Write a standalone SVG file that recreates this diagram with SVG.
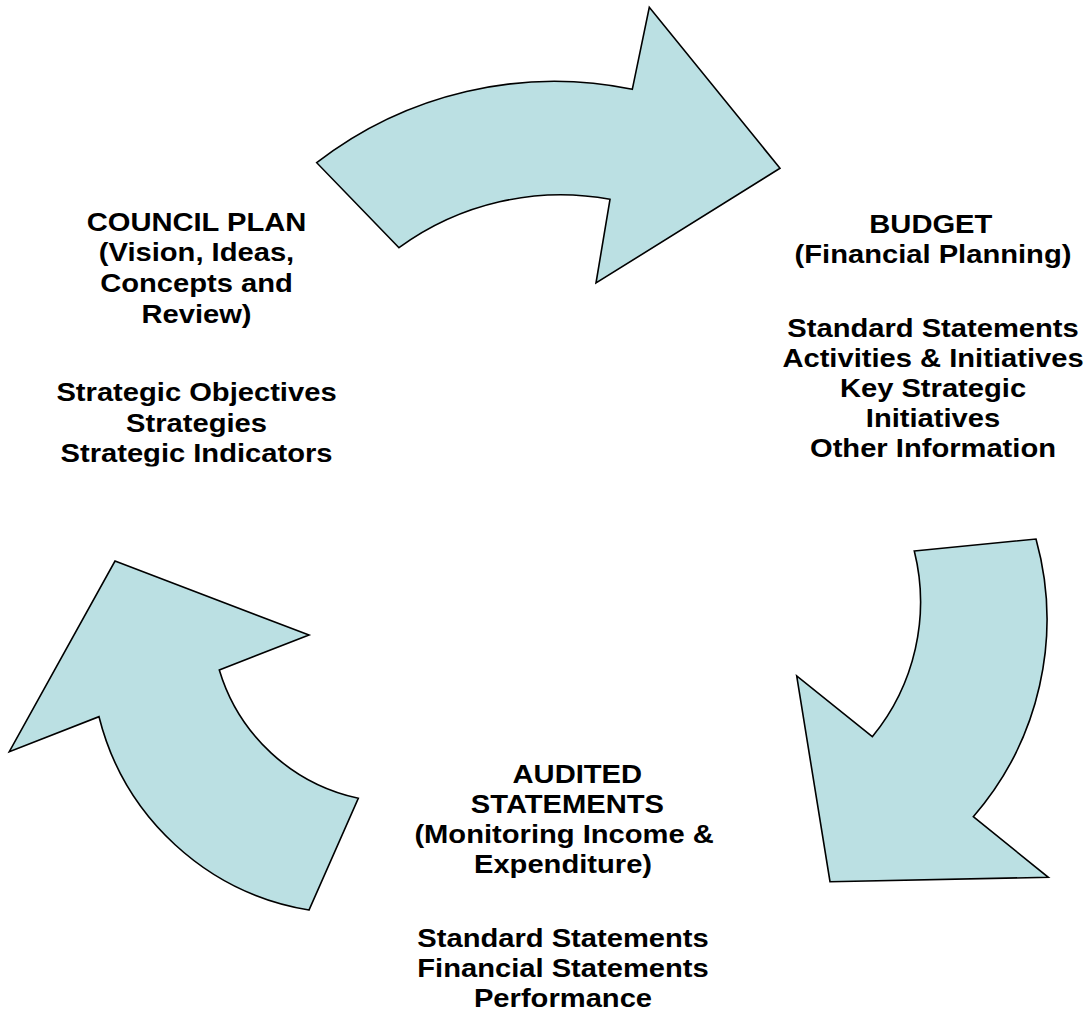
<svg xmlns="http://www.w3.org/2000/svg" width="1090" height="1021" viewBox="0 0 1090 1021">
  <style>
    .arrow { fill: #BBE0E3; stroke: #000000; stroke-width: 1.6; stroke-linejoin: miter; }
    .lbl { font-family: "Liberation Sans", Arial, sans-serif; font-weight: bold; font-size: 26.5px; fill: #000000; text-anchor: middle; }
  </style>
  <defs>
    <!-- text frame of the Council Plan block cuts its last line -->
    <clipPath id="plan-frame">
      <rect x="0" y="180" width="400" height="286.5"/>
    </clipPath>
  </defs>
  <rect width="1090" height="1021" fill="#FFFFFF"/>

  <!-- curved block arrows forming the cycle -->
  <g id="connectors">
    <path id="arrow-plan-to-budget" class="arrow"
      d="M 316.7 162.7 A 388 388 0 0 1 632.3 89.3 L 649.3 7.3 L 780 168.3 L 596 283 L 610 199.3 A 274 274 0 0 0 399 247.7 Z"/>
    <path id="arrow-budget-to-audit" class="arrow"
      d="M 914.3 551 L 1036 539 A 301 301 0 0 1 973.3 816.7 L 1048.3 877.3 L 830 881.7 L 796.7 676 L 872.3 736.7 A 212 212 0 0 0 914.3 551 Z"/>
    <path id="arrow-audit-to-plan" class="arrow"
      d="M 115 561 L 309 635 L 219.3 670 A 186 186 0 0 0 358.3 798.3 L 309 910 A 260 260 0 0 1 99 716.7 L 9.3 751.7 Z"/>
  </g>

  <!-- Council Plan -->
  <g id="council-plan" clip-path="url(#plan-frame)">
    <g transform="translate(196.5 0) scale(1.1 1)">
      <text class="lbl" x="0" y="230.7">COUNCIL PLAN</text>
      <text class="lbl" x="0" y="261.5">(Vision, Ideas,</text>
      <text class="lbl" x="0" y="292.5">Concepts and</text>
      <text class="lbl" x="0" y="323">Review)</text>
      <text class="lbl" x="0" y="401.5">Strategic Objectives</text>
      <text class="lbl" x="0" y="432">Strategies</text>
      <text class="lbl" x="0" y="462.5">Strategic Indicators</text>
    </g>
  </g>

  <!-- Budget -->
  <g id="budget" transform="translate(933 0) scale(1.1 1)">
    <text class="lbl" x="-2" y="233.3">BUDGET</text>
    <text class="lbl" x="0" y="263.5">(Financial Planning)</text>
    <text class="lbl" x="0" y="336.7">Standard Statements</text>
    <text class="lbl" x="0" y="366.7">Activities &amp; Initiatives</text>
    <text class="lbl" x="0" y="396.7">Key Strategic</text>
    <text class="lbl" x="0" y="426.7">Initiatives</text>
    <text class="lbl" x="0" y="456.7">Other Information</text>
  </g>

  <!-- Audited Statements -->
  <g id="audited-statements" transform="translate(563 0) scale(1.1 1)">
    <text class="lbl" x="13" y="783.3">AUDITED</text>
    <text class="lbl" x="4" y="813.3">STATEMENTS</text>
    <text class="lbl" x="1" y="843.3">(Monitoring Income &amp;</text>
    <text class="lbl" x="0" y="873.3">Expenditure)</text>
    <text class="lbl" x="0" y="946.7">Standard Statements</text>
    <text class="lbl" x="0" y="976.7">Financial Statements</text>
    <text class="lbl" x="0" y="1006.7">Performance</text>
  </g>
</svg>
